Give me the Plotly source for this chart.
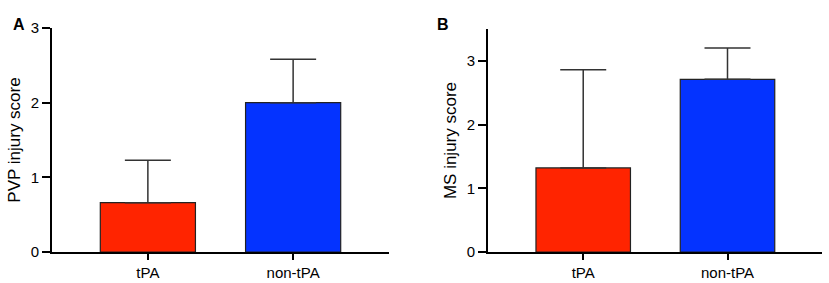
import plotly.graph_objects as go

categories = ["tPA", "non-tPA"]
pvp_mean = [0.66, 2.0]
pvp_err = [0.57, 0.58]
ms_mean = [1.32, 2.71]
ms_err = [1.54, 0.49]
bar_colors = ["#FF2400", "#0433FF"]

W, H = 829, 283
fig = go.Figure()

fig.add_trace(go.Bar(
    x=categories, y=pvp_mean, xaxis="x", yaxis="y",
    marker=dict(color=bar_colors, line=dict(color="#222222", width=1.2)),
    width=0.655,
    error_y=dict(type="data", array=pvp_err, arrayminus=[0, 0], symmetric=False,
                 color="#333333", thickness=1.5, width=23),
    showlegend=False))
fig.add_trace(go.Bar(
    x=categories, y=ms_mean, xaxis="x2", yaxis="y2",
    marker=dict(color=bar_colors, line=dict(color="#222222", width=1.2)),
    width=0.655,
    error_y=dict(type="data", array=ms_err, arrayminus=[0, 0], symmetric=False,
                 color="#333333", thickness=1.5, width=23),
    showlegend=False))

font_fam = "Liberation Sans, Arial, sans-serif"
axis_common = dict(showline=True, linecolor="black", linewidth=2, ticks="outside",
                   tickcolor="black", tickwidth=1.5, showgrid=False, zeroline=False,
                   automargin=False,
                   tickfont=dict(family=font_fam, size=15, color="black"))

fig.update_layout(
    width=W, height=H,
    margin=dict(l=0, r=0, t=0, b=0, pad=0, autoexpand=False),
    paper_bgcolor="white", plot_bgcolor="white",
    xaxis=dict(domain=[52/W, 389/W], anchor="y", range=[-0.66, 1.66], ticklen=6, **axis_common),
    yaxis=dict(domain=[1-252/H, 1-28/H], anchor="x", range=[0, 3], tickvals=[0, 1, 2, 3],
               ticklen=8, title=dict(text="PVP injury score", standoff=6,
                                     font=dict(family=font_fam, size=17, color="black")),
               **axis_common),
    xaxis2=dict(domain=[488/W, 822/W], anchor="y2", range=[-0.66, 1.655], ticklen=6, **axis_common),
    yaxis2=dict(domain=[1-252/H, 1-29/H], anchor="x2", range=[0, 3.5], tickvals=[0, 1, 2, 3],
                ticklen=8, title=dict(text="MS injury score", standoff=6,
                                      font=dict(family=font_fam, size=17, color="black")),
                **axis_common),
    annotations=[
        dict(text="<b>A</b>", x=11/W, y=1-14/H, xref="paper", yref="paper", showarrow=False,
             font=dict(family=font_fam, size=16, color="black")),
        dict(text="<b>B</b>", x=443/W, y=1-14/H, xref="paper", yref="paper", showarrow=False,
             font=dict(family=font_fam, size=16, color="black")),
    ],
)

fig.write_html("out.html", config={"displayModeBar": False},
               post_script="document.body.style.margin='0';document.body.style.overflow='hidden';")
